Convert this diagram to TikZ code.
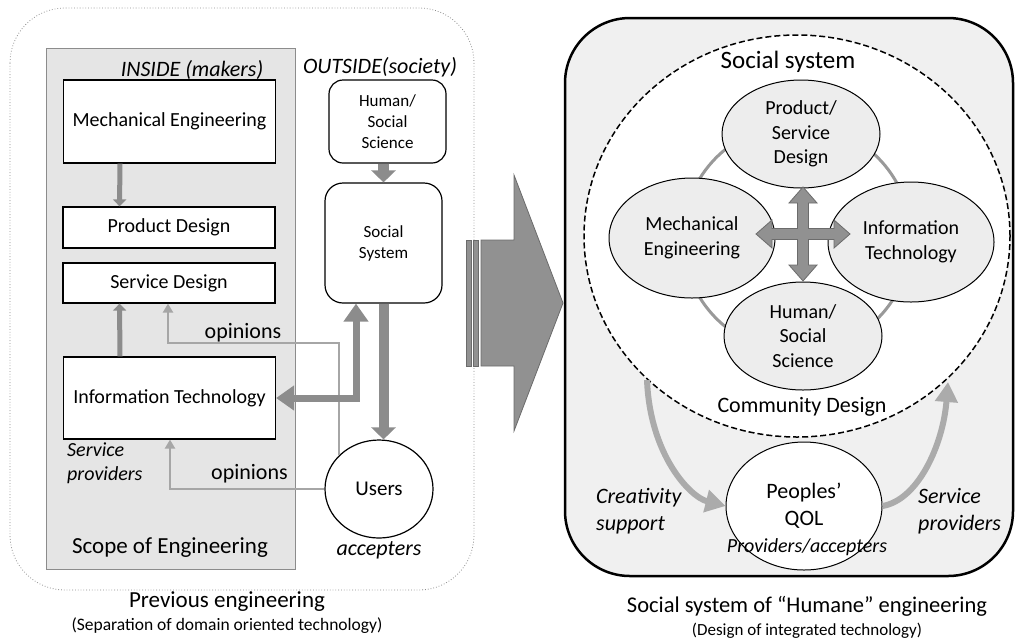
\documentclass[tikz,border=0pt]{standalone}
\usepackage{fontspec}
\setmainfont{Carlito}
\usetikzlibrary{positioning}
\usetikzlibrary{shapes.geometric}
\usetikzlibrary{arrows.meta}

\begin{document}
\begin{tikzpicture}[
        x = 1pt, y = -1pt,
        f17/.style = {font=\fontsize{17}{21}\selectfont, inner sep=0pt},
        f20/.style = {font=\fontsize{20}{24.5}\selectfont, inner sep=0pt},
        f21/.style = {font=\fontsize{21}{25}\selectfont, inner sep=0pt},
        f22/.style = {font=\fontsize{22}{27}\selectfont, inner sep=0pt},
        f23/.style = {font=\fontsize{23}{27}\selectfont, inner sep=0pt},
        f25/.style = {font=\fontsize{25}{30}\selectfont, inner sep=0pt},
        i20/.style = {font=\fontsize{20}{24}\selectfont\itshape, inner sep=0pt},
        i22/.style = {font=\fontsize{22}{27}\selectfont\itshape, inner sep=0pt},
        ebox/.style = {
            draw,
            fill = white,
            line width = 1.2pt,
            minimum width = #1,
            align = center
        },
        ebox/.default = 212pt,
        rbox/.style = {
            draw,
            fill = white,
            line width = 1.2pt,
            rounded corners = 14pt,
            minimum width = 117pt,
            align = center
        },
        oval/.style = {
            draw,
            ellipse,
            fill = #1,
            line width = 1pt,
            inner sep = 0pt,
            align = center
        },
        oval/.default = black!7,
        thinarrow/.style = {draw=black!35, line width=2.5pt, -{Triangle[width=10pt,length=9pt]}},
        midarrow/.style = {draw=black!45, line width=5pt, -{Triangle[width=13pt,length=7pt]}},
        fatarrow/.style = {draw=black!45, line width=#1, -{Triangle[width=24pt,length=12pt]}},
        fatarrow/.default = 7pt,
        curvearrow/.style = {draw=black!33, line width=6pt, -{Triangle[width=22pt,length=20pt]}},
        block/.style = {fill=black!43, draw=black!58, line width=0.8pt}
        ]
        \useasboundingbox (0,0) rectangle (1016,641);
%
% left panel
        \draw[black!45, dotted, line width=0.8pt, rounded corners=55pt] (10,8) rectangle (474,590);
        \draw[fill=black!10, draw=black!45, line width=1pt] (46,48) rectangle (295,569);
%
        \node[i22] (in) at (192,70) {INSIDE (makers)};
        \node[i22] (out) at (380,67) {OUTSIDE(society)};
%
        \node[ebox, minimum height=83pt, f20] (ME) at (169.5,121.5) {Mechanical Engineering};
        \node[ebox, minimum height=41pt, f20] (PD) at (169,227.5) {Product Design};
        \node[ebox, minimum height=40pt, f20] (SD) at (169,283) {Service Design};
        \node[ebox, minimum height=82pt, f20] (IT) at (169.5,398) {Information Technology};
%
        \node[rbox, minimum height=83pt, f17] (HS) at (387.5,121.5) {Human/\\Social\\Science};
        \node[rbox, minimum height=120pt, rounded corners=18pt, f17] (SS) at (383.5,243) {Social\\System};
        \node[oval=white, line width=1.2pt, minimum width=108pt, minimum height=98pt, f21] (U) at (379,489) {Users};
%
        \node[f22] (op1) at (243,333) {opinions};
        \node[f22] (op2) at (249.5,474) {opinions};
        \node[i20, align=left, anchor=west] (sp) at (67,463) {Service\\providers};
        \node[i22, below=3pt of U] (acc) {accepters};
        \node[f23] (scope) at (170,548) {Scope of Engineering};
        \node[f23] (prev) at (227,602) {Previous engineering};
        \node[font=\fontsize{17.5}{21}\selectfont, inner sep=0pt, below=5pt of prev] (sep) {(Separation of domain oriented technology)};
%
        \draw[midarrow] ([xshift=-49.5pt]ME.south) -- ([xshift=-49.5pt]PD.north);
        \draw[midarrow] ([xshift=-49.5pt]IT.north) -- ([xshift=-49.5pt]SD.south);
%
        \coordinate (o1) at (168,343);
        \coordinate (o2) at (170,489);
        \draw[thinarrow] (U.140) |- (o1) -- (o1 |- SD.south);
        \draw[thinarrow] (U.west) -- (o2) -- (o2 |- IT.south);
%
        \coordinate (k) at (356,398);
        \draw[fatarrow, line join=miter, {Triangle[width=24pt,length=18pt]}-{Triangle[width=24pt,length=18pt]}] (IT.east) -- (k) -- (k |- SS.south);
        \draw[fatarrow=10pt] (SS.south) -- (SS.south |- U.north);
        \draw[fatarrow=11pt] (HS.south -| SS.north) -- (SS.north);
%
% big arrow
        \filldraw[block] (481,240) -- (514,240) -- (514,175) -- (563,303) -- (514,431) -- (514,366) -- (481,366) -- cycle;
        \filldraw[block] (466,240) rectangle (471,366);
        \filldraw[block] (473,240) rectangle (478,366);
%
% right panel
        \draw[line width=2.5pt, rounded corners=65pt, fill=black!6] (565,18) rectangle (1013,576);
        \draw[fill=white, line width=1.5pt, dash pattern=on 6pt off 3pt] (797,236) ellipse [x radius=213pt, y radius=201pt];
        \draw[black!40, line width=3pt] (797,238) circle [radius=114pt];
%
        \node[f25] (soc) at (788,62) {Social system};
        \node[f22] (com) at (802,407) {Community Design};
%
        \node[oval, minimum width=158pt, minimum height=108pt, f20] (PSD) at (801,134) {Product/\\Service\\Design};
        \node[oval, minimum width=166pt, minimum height=120pt, f20] (MEr) at (692,238) {Mechanical\\Engineering};
        \node[oval, minimum width=166pt, minimum height=120pt, f20] (ITr) at (911,242) {Information\\Technology};
        \node[oval, minimum width=158pt, minimum height=108pt, f20] (HSS) at (803,336) {Human/\\Social\\Science};
%
        \filldraw[block, shift={(803,234)}] (0,-47) -- (14,-31) -- (5.5,-31) -- (5.5,-5.5) -- (31,-5.5) -- (31,-14) -- (47,0)
            -- (31,14) -- (31,5.5) -- (5.5,5.5) -- (5.5,31) -- (14,31) -- (0,47) -- (-14,31) -- (-5.5,31) -- (-5.5,5.5)
            -- (-31,5.5) -- (-31,14) -- (-47,0) -- (-31,-14) -- (-31,-5.5) -- (-5.5,-5.5) -- (-5.5,-31) -- (-14,-31) -- cycle;
%
        \node[oval=white, minimum width=156pt, minimum height=128pt, f22] (QOL) at (804,506) {Peoples’\\QOL};
        \node[i20] (pa) at (807,547) {Providers/accepters};
%
        \coordinate (c1) at (647,380);
        \coordinate (c2) at (948,382);
        \draw[curvearrow] (c1) .. controls (650,455) and (690,497) .. (QOL.west);
        \draw[curvearrow] (QOL.east) .. controls (918,500) and (943,445) .. (c2);
%
        \node[i22, align=left, anchor=west] (cs) at (596,511.5) {Creativity\\support};
        \node[i22, align=left, anchor=west] (spr) at (918,511.5) {Service\\providers};
%
        \node[font=\fontsize{22.5}{27}\selectfont, inner sep=0pt] (hum) at (807,606) {Social system of “Humane” engineering};
        \node[f17] (des) at (807,631) {(Design of integrated technology)};
    \end{tikzpicture}
\end{document}
